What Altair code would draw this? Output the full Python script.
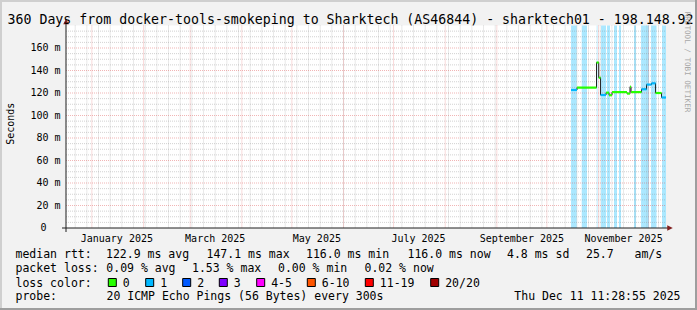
import altair as alt
import pandas as pd

FONT = "DejaVu Sans Mono"
IMG_W, IMG_H = 697, 310
OX, OY = 66.0, 25.5          # plot origin inside the image
W, H = 600, 202.5            # plot area

# ---------------- data ----------------
title = "360 Days from docker-tools-smokeping to Sharktech (AS46844) - sharktech01 - 198.148.92"

# median rtt segments (ms) and packet-loss class of each segment
seg_start = ["2025-10-15 12:00", "2025-10-19 02:00", "2025-10-30 19:00", "2025-11-01 03:00",
             "2025-11-02 05:00", "2025-11-05 12:00", "2025-11-07 07:00", "2025-11-09 02:00",
             "2025-11-18 02:00", "2025-11-19 21:00", "2025-11-20 12:00", "2025-11-26 19:00",
             "2025-11-29 19:00", "2025-12-02 19:00", "2025-12-05 05:00", "2025-12-08 19:00"]
seg_end = seg_start[1:] + ["2025-12-11 11:28"]
seg_value = [122.7, 124.8, 147.1, 133.6, 118.2, 120.3, 118.0, 120.8,
             119.5, 125.6, 120.8, 123.3, 127.5, 128.6, 120.0, 116.0]
seg_loss = [1, 0, 0, 0, 1, 0, 0, 0, 0, 0, 0, 1, 1, 1, 0, 1]

# light-blue loss bands
band_start = ["2025-10-15 12:00", "2025-10-21 22:00", "2025-10-30 22:00", "2025-11-02 12:00",
              "2025-11-06 02:00", "2025-11-10 07:00", "2025-11-13 07:00", "2025-11-22 07:00",
              "2025-11-26 12:00", "2025-12-02 12:00", "2025-12-09 02:00"]
band_end = ["2025-10-18 22:00", "2025-10-25 02:00", "2025-10-31 09:00", "2025-11-05 12:00",
            "2025-11-07 21:00", "2025-11-12 02:00", "2025-11-14 12:00", "2025-11-23 12:00",
            "2025-12-01 07:00", "2025-12-05 19:00", "2025-12-11 11:28"]

loss_labels = ["0", "1", "2", "3", "4-5", "6-10", "11-19", "20/20"]
loss_colors = ["#26ff00", "#00b8ff", "#0059ff", "#7e00ff", "#ff00ff", "#ff5500", "#ff0000", "#a00000"]

month_labels = ["January 2025", "March 2025", "May 2025", "July 2025", "September 2025", "November 2025"]
month_label_dates = ["2025-01-16", "2025-03-16", "2025-05-16", "2025-07-16", "2025-09-16", "2025-11-16"]

y_tick_values = [0, 20, 40, 60, 80, 100, 120, 140, 160]
y_minor_values = [v for v in range(5, 180, 5) if v % 20 != 0]
y_major_values = [20, 40, 60, 80, 100, 120, 140, 160]

month_lines = [d.strftime("%Y-%m-%d") for d in pd.date_range("2025-01-01", "2025-12-01", freq="MS")]
week_lines = [d.strftime("%Y-%m-%d") for d in pd.date_range("2024-12-22", "2025-12-07", freq="7D")]

legend_rows = [258.3, 272.3, 286.5, 300.3]
legend_text = ["median rtt:", "122.9 ms avg", "147.1 ms max", "116.0 ms min", "116.0 ms now",
               "4.8 ms sd", "25.7", "am/s",
               "packet loss:", "0.09 % avg", "1.53 % max", "0.00 % min", "0.02 % now",
               "loss color:",
               "probe:", "20 ICMP Echo Pings (56 Bytes) every 300s"]
legend_x = [15.5, 106.0, 206.5, 306.0, 407.5, 507.0, 586.0, 634.5,
            15.5, 106.3, 192.0, 278.0, 364.5,
            15.5,
            15.5, 106.5]
legend_row = [0, 0, 0, 0, 0, 0, 0, 0,
              1, 1, 1, 1, 1,
              2,
              3, 3]
box_x = [108.3, 145.7, 182.7, 219.3, 256.7, 307.3, 365.3, 430.7]
timestamp = "Thu Dec 11 11:28:55 2025"


def utc(lst):
    return pd.to_datetime(lst).strftime("%Y-%m-%dT%H:%M:%SZ").tolist()


xs = alt.Scale(type="utc",
               domain=[alt.DateTime(year=2024, month=12, date=16, hours=11, minutes=28, seconds=55, utc=True),
                       alt.DateTime(year=2025, month=12, date=11, hours=11, minutes=28, seconds=55, utc=True)])
ys = alt.Scale(domain=[0, 180], nice=False, zero=True)

one = pd.DataFrame({"a": [0]})

# ---------------- plot layers ----------------
bands = alt.Chart(pd.DataFrame({"t0": utc(band_start), "t1": utc(band_end)})).mark_rect(
    color="#00b8ff", opacity=0.33).encode(
    x=alt.X("t0:T", scale=xs, axis=None), x2="t1:T", y=alt.value(0), y2=alt.value(H))

vminor = alt.Chart(pd.DataFrame({"t": utc(week_lines)})).mark_rule(
    color="#8f8f8f", opacity=0.4, strokeDash=[1, 1], strokeWidth=1).encode(
    x=alt.X("t:T", scale=xs, axis=None), y=alt.value(0), y2=alt.value(H))
vmajor = alt.Chart(pd.DataFrame({"t": utc(month_lines)})).mark_rule(
    color="#de4f4f", opacity=0.42, strokeDash=[1, 1], strokeWidth=1).encode(
    x=alt.X("t:T", scale=xs, axis=None), y=alt.value(0), y2=alt.value(H))
hminor = alt.Chart(pd.DataFrame({"v": y_minor_values})).mark_rule(
    color="#8f8f8f", opacity=0.4, strokeDash=[1, 1], strokeWidth=1).encode(
    y=alt.Y("v:Q", scale=ys, axis=None), x=alt.value(0), x2=alt.value(W))
hmajor = alt.Chart(pd.DataFrame({"v": y_major_values})).mark_rule(
    color="#de4f4f", opacity=0.42, strokeDash=[1, 1], strokeWidth=1).encode(
    y=alt.Y("v:Q", scale=ys, axis=None), x=alt.value(0), x2=alt.value(W))

step_df = pd.DataFrame({"t": utc(seg_start + [seg_end[-1]]), "v": seg_value + [seg_value[-1]]})
step = alt.Chart(step_df).mark_line(interpolate="step-after", color="#202020", strokeWidth=1).encode(
    x=alt.X("t:T", scale=xs, axis=None), y=alt.Y("v:Q", scale=ys, axis=None))

seg_df = pd.DataFrame({"t0": utc(seg_start), "t1": utc(seg_end), "v": seg_value,
                       "c": [loss_colors[i] for i in seg_loss]})
segs = alt.Chart(seg_df).mark_rule(strokeWidth=2.2).encode(
    x=alt.X("t0:T", scale=xs, axis=None), x2="t1:T", y=alt.Y("v:Q", scale=ys, axis=None),
    color=alt.Color("c:N", scale=None))

# axes
xaxis = alt.Chart(one).mark_rule(color="#1f1f1f", strokeWidth=1).encode(
    x=alt.value(-4), x2=alt.value(W + 4), y=alt.value(H))
yaxis = alt.Chart(one).mark_rule(color="#1f1f1f", strokeWidth=1).encode(
    x=alt.value(0), y=alt.value(-4), y2=alt.value(H + 4))
xarrow = alt.Chart(one).mark_point(shape="M-1,-1L1,0L-1,1Z", filled=True, color="#801f1f",
                                   opacity=1, size=30).encode(x=alt.value(W + 4), y=alt.value(H))
yarrow = alt.Chart(one).mark_point(shape="M-1,1L0,-1L1,1Z", filled=True, color="#801f1f",
                                   opacity=1, size=30).encode(x=alt.value(0), y=alt.value(-4))

xlabels = alt.Chart(pd.DataFrame({"t": utc(month_label_dates), "lab": month_labels})).mark_text(
    font=FONT, fontSize=10, align="center", baseline="alphabetic", color="black").encode(
    x=alt.X("t:T", scale=xs, axis=None), y=alt.value(241.5 - OY), text="lab:N")

ylab_df = pd.DataFrame({"v": y_tick_values[1:], "lab": [f"{v} m" for v in y_tick_values[1:]]})
ylabels = alt.Chart(ylab_df).mark_text(font=FONT, fontSize=10, align="right", baseline="middle",
                                       color="black").encode(
    y=alt.Y("v:Q", scale=ys, axis=None), x=alt.value(-5.5), text="lab:N")
ylabel0 = alt.Chart(pd.DataFrame({"v": [y_tick_values[0]], "lab": ["0"]})).mark_text(
    font=FONT, fontSize=10, align="right", baseline="middle", color="black").encode(
    y=alt.Y("v:Q", scale=ys, axis=None), x=alt.value(-19.5), text="lab:N")

seconds = alt.Chart(one).mark_text(font=FONT, fontSize=10, angle=270, align="center",
                                   baseline="middle", color="black").encode(
    x=alt.value(11 - OX), y=alt.value(123.7 - OY), text=alt.value("Seconds"))

title_t = alt.Chart(one).mark_text(font=FONT, fontSize=13.25, align="left", baseline="alphabetic",
                                   color="black").encode(
    x=alt.value(7.5 - OX), y=alt.value(24 - OY), text=alt.value(title))

watermark = alt.Chart(one).mark_text(font=FONT, fontSize=7.6, angle=90, align="center",
                                     baseline="middle", color="#a8a8a8").encode(
    x=alt.value(687 - OX), y=alt.value(62 - OY), text=alt.value("RRDTOOL / TOBI OETIKER"))

leg_df = pd.DataFrame({"text": legend_text,
                       "px": [x - OX for x in legend_x],
                       "py": [legend_rows[r] - OY for r in legend_row]})
legend = alt.Chart(leg_df).mark_text(font=FONT, fontSize=11.5, align="left", baseline="alphabetic",
                                     color="black").encode(
    x=alt.X("px:Q", scale=None, axis=None), y=alt.Y("py:Q", scale=None, axis=None), text="text:N")

box_df = pd.DataFrame({"px": [x - OX for x in box_x], "px2": [x + 8 - OX for x in box_x],
                       "py": [278.5 - OY] * len(box_x), "py2": [286.5 - OY] * len(box_x),
                       "c": loss_colors, "lab": loss_labels,
                       "lx": [x + 14.5 - OX for x in box_x], "ly": [legend_rows[2] - OY] * len(box_x)})
boxes = alt.Chart(box_df).mark_rect(stroke="black", strokeWidth=1).encode(
    x=alt.X("px:Q", scale=None, axis=None), x2="px2:Q",
    y=alt.Y("py:Q", scale=None, axis=None), y2="py2:Q",
    fill=alt.Fill("c:N", scale=None))
box_labels = alt.Chart(box_df).mark_text(font=FONT, fontSize=11.5, align="left",
                                         baseline="alphabetic", color="black").encode(
    x=alt.X("lx:Q", scale=None, axis=None), y=alt.Y("ly:Q", scale=None, axis=None), text="lab:N")

stamp = alt.Chart(one).mark_text(font=FONT, fontSize=11.5, align="right", baseline="alphabetic",
                                 color="black").encode(
    x=alt.value(680.5 - OX), y=alt.value(legend_rows[3] - OY), text=alt.value(timestamp))

# 3D frame
b_top = alt.Chart(one).mark_rule(color="#cfcfcf", strokeWidth=2).encode(
    x=alt.value(-OX), x2=alt.value(IMG_W - OX), y=alt.value(1 - OY))
b_left = alt.Chart(one).mark_rule(color="#cfcfcf", strokeWidth=2).encode(
    x=alt.value(1 - OX), y=alt.value(-OY), y2=alt.value(IMG_H - OY))
b_bottom = alt.Chart(one).mark_rule(color="#9e9e9e", strokeWidth=2).encode(
    x=alt.value(-OX), x2=alt.value(IMG_W - OX), y=alt.value(IMG_H - 1 - OY))
b_right = alt.Chart(one).mark_rule(color="#9e9e9e", strokeWidth=2).encode(
    x=alt.value(IMG_W - 1 - OX), y=alt.value(-OY), y2=alt.value(IMG_H - OY))

chart = alt.layer(
    bands, vminor, hminor, vmajor, hmajor, step, segs,
    xaxis, yaxis, xarrow, yarrow,
    xlabels, ylabels, ylabel0, seconds, title_t, watermark,
    legend, boxes, box_labels, stamp,
    b_top, b_left, b_bottom, b_right,
).properties(
    width=W, height=H,
    padding={"left": OX, "top": OY, "right": IMG_W - OX - W, "bottom": IMG_H - OY - H},
    autosize=alt.AutoSizeParams(type="none"),
    background="#f2f2f2",
).configure_view(fill="white", stroke=None)

chart.save("out.html", embed_options={"renderer": "svg", "actions": False})
